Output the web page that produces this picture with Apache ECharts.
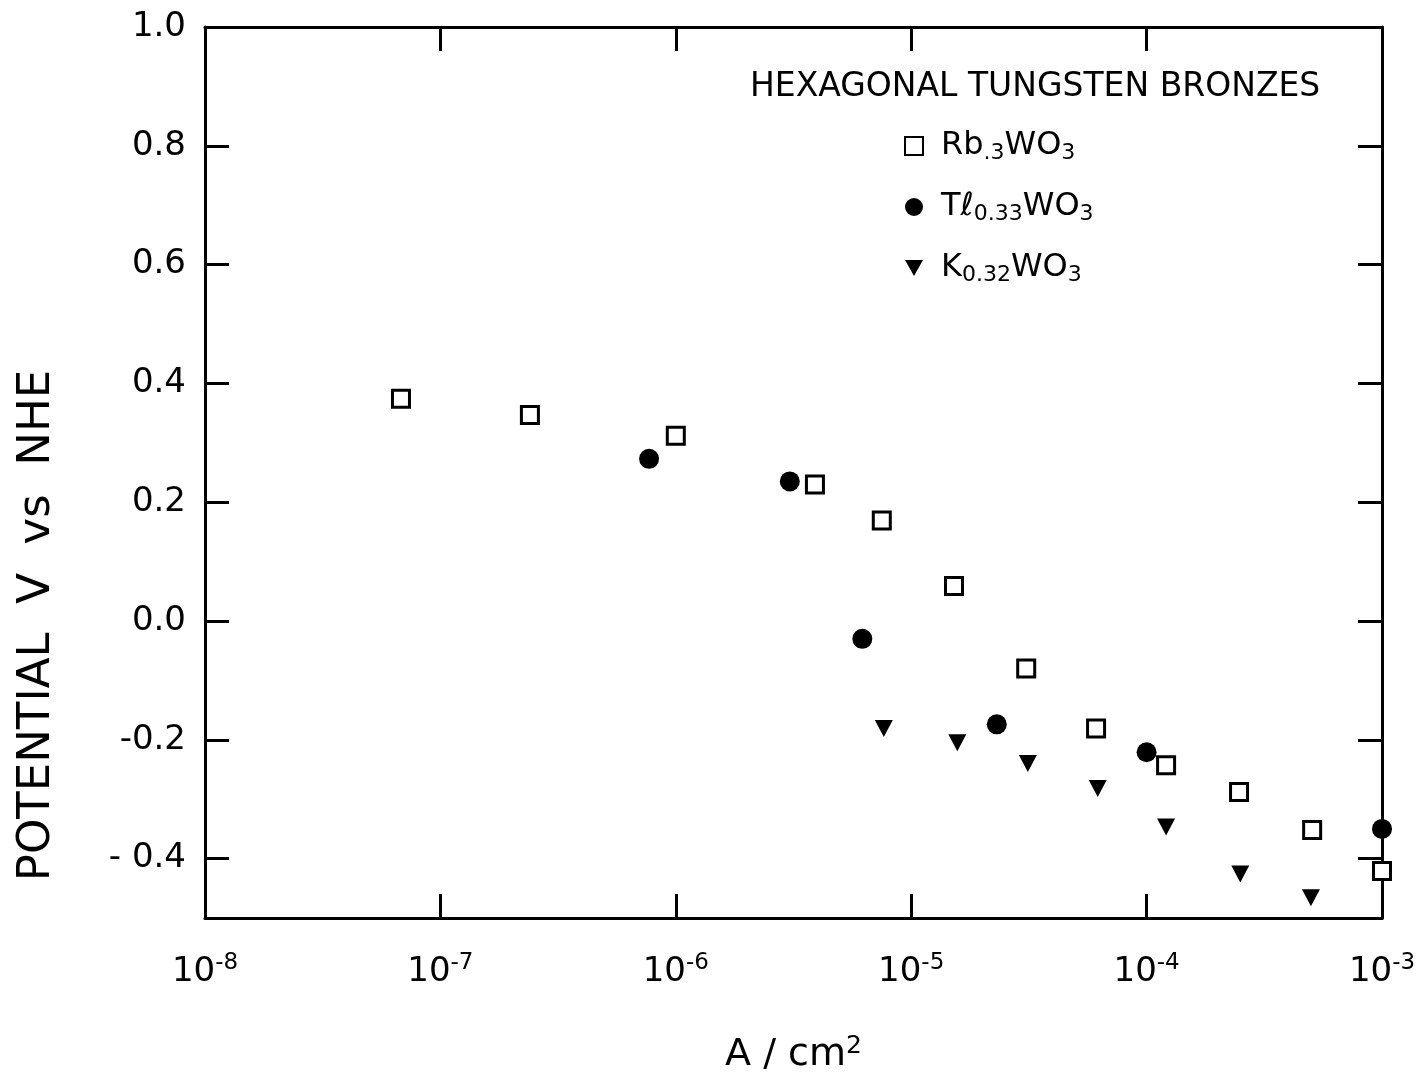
<!DOCTYPE html>
<html>
<head>
<meta charset="utf-8">
<title>Hexagonal tungsten bronzes</title>
<script src="https://cdn.jsdelivr.net/npm/echarts@6/dist/echarts.min.js"></script>
<style>
  html, body { margin: 0; padding: 0; background: #fff; }
  #chart { width: 1426px; height: 1076px; }
</style>
</head>
<body>
<div id="chart"></div>
<script>
// Current density (A/cm^2) and potential (V vs NHE) for each bronze
const rbCurrent   = [6.8e-8, 2.4e-7, 1.0e-6, 3.9e-6, 7.5e-6, 1.52e-5, 3.08e-5, 6.1e-5, 1.21e-4, 2.47e-4, 5.05e-4, 1.0e-3];
const rbPotential = [0.374, 0.347, 0.312, 0.230, 0.169, 0.059, -0.080, -0.181, -0.243, -0.288, -0.352, -0.421];

const tlCurrent   = [7.7e-7, 3.05e-6, 6.2e-6, 2.31e-5, 1.0e-4, 1.0e-3];
const tlPotential = [0.273, 0.235, -0.030, -0.174, -0.221, -0.350];

const kCurrent    = [7.65e-6, 1.57e-5, 3.13e-5, 6.2e-5, 1.21e-4, 2.5e-4, 4.99e-4];
const kPotential  = [-0.181, -0.205, -0.240, -0.282, -0.347, -0.426, -0.466];

// Axis ticks
const xTickValues = [1e-8, 1e-7, 1e-6, 1e-5, 1e-4, 1e-3];
const yTickValues = [-0.4, -0.2, 0.0, 0.2, 0.4, 0.6, 0.8, 1.0];
const yTickLabels = ['- 0.4', '-0.2', '0.0', '0.2', '0.4', '0.6', '0.8', '1.0'];

const seriesNames = ['Rb.3WO3', 'Tl0.33WO3', 'K0.32WO3'];
const legendRich = {
  'Rb.3WO3':   '{g|}{m|Rb}{s|.3}{m|WO}{s|3}',
  'Tl0.33WO3': '{g|}{m|T\u2113}{s|0.33}{m|WO}{s|3}',
  'K0.32WO3':  '{g|}{m|K}{s|0.32}{m|WO}{s|3}'
};

const FONT = 'DejaVu Sans';
const INK = '#000';

function pairs(xs, ys) { return xs.map((x, i) => [x, ys[i]]); }

const chart = echarts.init(document.getElementById('chart'), null, { renderer: 'canvas' });

const tickStyle = { show: true, inside: true, length: 24, lineStyle: { color: INK, width: 3 } };
const lineStyle = { show: true, onZero: false, lineStyle: { color: INK, width: 3 } };

chart.setOption({
  backgroundColor: '#fff',
  animation: false,
  textStyle: { fontFamily: FONT, color: INK },
  grid: { left: 205, right: 44, top: 27, bottom: 158, containLabel: false, outerBoundsMode: 'none' },
  title: {
    text: 'HEXAGONAL TUNGSTEN BRONZES',
    left: 745, top: 66,
    textStyle: { fontFamily: FONT, fontSize: 33, fontWeight: 'normal', color: INK }
  },
  legend: {
    orient: 'vertical',
    left: 899, top: 123,
    itemWidth: 18, itemHeight: 18,
    itemGap: 25,
    data: seriesNames,
    formatter: name => legendRich[name],
    textStyle: {
      fontFamily: FONT, color: INK,
      rich: {
        g: { width: 13 },
        m: { fontFamily: FONT, fontSize: 32, color: INK, lineHeight: 44 },
        s: { fontFamily: FONT, fontSize: 22, color: INK, lineHeight: 44, padding: [14, 0, 0, 0] }
      }
    }
  },
  xAxis: [{
    type: 'log', logBase: 10, min: 1e-8, max: 1e-3, position: 'bottom',
    axisLine: lineStyle,
    axisTick: Object.assign({ customValues: xTickValues }, tickStyle),
    splitLine: { show: false },
    minorTick: { show: false },
    axisLabel: {
      customValues: xTickValues,
      margin: 34,
      formatter: v => '{b|10}{p|' + Math.round(Math.log10(v)) + '}',
      rich: {
        b: { fontFamily: FONT, fontSize: 34, color: INK },
        p: { fontFamily: FONT, fontSize: 23, color: INK, padding: [0, 0, 18, 0] }
      }
    },
    name: '{t|A / cm}{p|2}',
    nameLocation: 'middle',
    nameGap: 116,
    nameTextStyle: {
      rich: {
        t: { fontFamily: FONT, fontSize: 38, color: INK },
        p: { fontFamily: FONT, fontSize: 25, color: INK, padding: [0, 0, 18, 0] }
      }
    }
  }, {
    type: 'log', logBase: 10, min: 1e-8, max: 1e-3, position: 'top',
    axisLine: lineStyle,
    axisTick: Object.assign({ customValues: xTickValues }, tickStyle),
    axisLabel: { show: false },
    splitLine: { show: false },
    minorTick: { show: false }
  }],
  yAxis: [{
    type: 'value', min: -0.5, max: 1.0, position: 'left',
    axisLine: lineStyle,
    axisTick: Object.assign({ customValues: yTickValues }, tickStyle),
    splitLine: { show: false },
    axisLabel: {
      customValues: yTickValues,
      margin: 19,
      fontFamily: FONT, fontSize: 34, color: INK,
      formatter: v => {
        const i = yTickValues.findIndex(t => Math.abs(t - v) < 1e-9);
        return i >= 0 ? yTickLabels[i] : '';
      }
    },
    name: 'POTENTIAL  V  vs  NHE',
    nameLocation: 'middle',
    nameRotate: 90,
    nameGap: 145,
    nameTextStyle: { fontFamily: FONT, fontSize: 45, color: INK, padding: [0, 306, 0, 0] }
  }, {
    type: 'value', min: -0.5, max: 1.0, position: 'right',
    axisLine: lineStyle,
    axisTick: Object.assign({ customValues: yTickValues }, tickStyle),
    axisLabel: { show: false },
    splitLine: { show: false }
  }],
  series: [{
    name: seriesNames[0],
    type: 'scatter',
    xAxisIndex: 0, yAxisIndex: 0,
    symbol: 'rect',
    symbolSize: 17,
    itemStyle: { color: '#fff', borderColor: INK, borderWidth: 3, opacity: 1 },
    data: pairs(rbCurrent, rbPotential),
    z: 3
  }, {
    name: seriesNames[1],
    type: 'scatter',
    xAxisIndex: 0, yAxisIndex: 0,
    symbol: 'circle',
    symbolSize: 20,
    itemStyle: { color: INK, opacity: 1 },
    data: pairs(tlCurrent, tlPotential),
    z: 4
  }, {
    name: seriesNames[2],
    type: 'scatter',
    xAxisIndex: 0, yAxisIndex: 0,
    symbol: 'path://M0,0L20,0L10,18Z',
    symbolSize: [18, 17],
    itemStyle: { color: INK, opacity: 1 },
    data: pairs(kCurrent, kPotential),
    z: 3
  }]
});
</script>
</body>
</html>
